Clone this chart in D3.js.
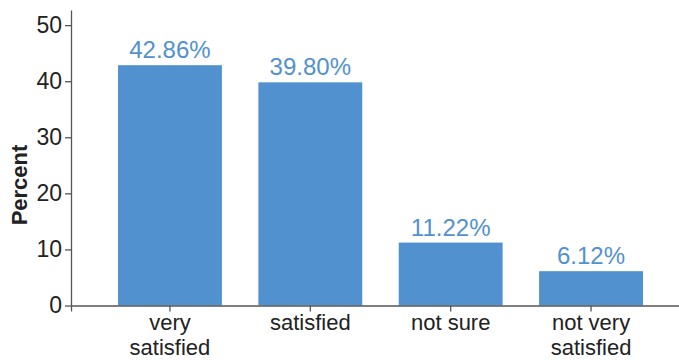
<!DOCTYPE html>
<meta charset="utf-8">
<script src="https://d3js.org/d3.v7.min.js"></script>
<style>
  body { margin: 0; background: #fff; }
  svg { font-family: "Liberation Sans", Arial, sans-serif; }
  .axis path, .axis line { stroke: #555; stroke-width: 1.3; }
  .axis text { fill: #222; font-size: 23px; }
  .xaxis text { font-size: 22px; }
  .bar { fill: #5191cf; }
  .val { fill: #5191cf; font-size: 24px; }
</style>
<svg id="chart"></svg>
<script>
const categories = [["very", "satisfied"], ["satisfied"], ["not sure"], ["not very", "satisfied"]];
const values = [42.86, 39.80, 11.22, 6.12];
const yTicks = [0, 10, 20, 30, 40, 50];

const WIDTH = 679, HEIGHT = 360;
const X0 = 71, Y0 = 305.5;

const svg = d3.select('#chart')
  .attr('width', WIDTH)
  .attr('height', HEIGHT);

const keys = categories.map(d => d.join(' '));

const x = d3.scaleBand()
  .domain(keys)
  .range([X0, 690])
  .paddingInner(0.26)
  .paddingOuter(0.335);

const y = d3.scaleLinear()
  .domain([0, 52.7])
  .range([Y0, 10]);

// bars
svg.selectAll('rect.bar')
  .data(values)
  .join('rect')
    .attr('class', 'bar')
    .attr('x', (d, i) => x(keys[i]))
    .attr('y', d => y(d))
    .attr('width', x.bandwidth())
    .attr('height', d => Y0 - y(d));

// value labels
svg.selectAll('text.val')
  .data(values)
  .join('text')
    .attr('class', 'val')
    .attr('text-anchor', 'middle')
    .attr('x', (d, i) => x(keys[i]) + x.bandwidth() / 2)
    .attr('y', d => y(d) - 7)
    .text(d => d.toFixed(2) + '%');

// y axis
svg.append('g')
  .attr('class', 'axis')
  .attr('transform', 'translate(' + X0 + ',0)')
  .call(d3.axisLeft(y).tickValues(yTicks).tickSizeOuter(0).tickPadding(3));

// x axis
const xg = svg.append('g')
  .attr('class', 'axis xaxis')
  .attr('transform', 'translate(0,' + Y0 + ')')
  .call(d3.axisBottom(x).tickSizeOuter(6).tickPadding(3));

xg.selectAll('.tick text').each(function(d, i) {
  const t = d3.select(this).text(null);
  categories[i].forEach((line, j) => {
    t.append('tspan')
      .attr('x', 0)
      .attr('dy', j === 0 ? '0.71em' : '1.12em')
      .text(line);
  });
});

// y label
svg.append('text')
  .attr('transform', 'translate(27,185) rotate(-90)')
  .attr('text-anchor', 'middle')
  .attr('font-size', 22)
  .attr('font-weight', 'bold')
  .attr('fill', '#222')
  .text('Percent');
</script>
